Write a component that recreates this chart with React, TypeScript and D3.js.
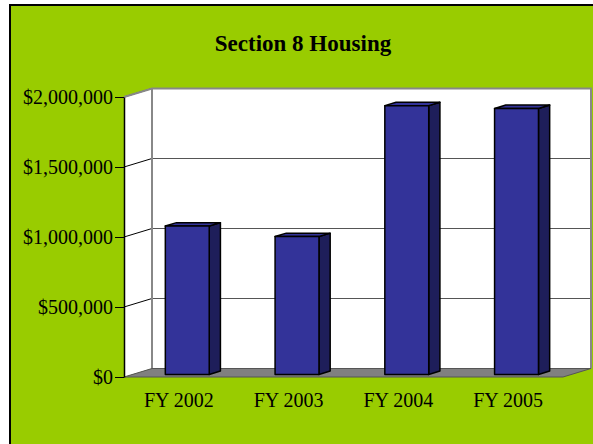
import React, { useEffect, useRef } from "react";
import * as d3 from "d3";

const categories = ["FY 2002", "FY 2003", "FY 2004", "FY 2005"];
const values = [1060000, 985000, 1920000, 1900000];
const yTicks = [0, 500000, 1000000, 1500000, 2000000];
const title = "Section 8 Housing";

// depth offset of the 3D box (back wall vs front plane)
const DX = 28;
const DY = 8.5;

export default function App() {
  const ref = useRef<SVGSVGElement>(null);

  useEffect(() => {
    const svg = d3.select(ref.current);
    svg.selectAll("*").remove();

    const x = d3.scaleBand().domain(categories).range([124, 563]);
    const y = d3.scaleLinear().domain([0, 2000000]).range([377, 97]);
    const p = (px: number, v: number, z: number) => [px + z * DX, y(v) - z * DY];
    const poly = (pts: number[][]) => pts.map((d) => d.join(",")).join(" ");

    // frame
    svg.append("rect")
      .attr("x", 10).attr("y", 5)
      .attr("width", 600).attr("height", 440)
      .attr("fill", "#99CC00")
      .attr("stroke", "#000").attr("stroke-width", 2);

    svg.append("text")
      .attr("x", 303).attr("y", 51)
      .attr("text-anchor", "middle")
      .attr("font-family", "'Liberation Serif', 'Times New Roman', serif")
      .attr("font-weight", "bold")
      .attr("font-size", 23)
      .text(title);

    const [x0, x1] = x.range();
    const top = y.domain()[1];

    // back wall
    svg.append("polygon")
      .attr("points", poly([p(x0, top, 1), p(x1, top, 1), p(x1, 0, 1), p(x0, 0, 1)]))
      .attr("fill", "#fff");
    // left wall
    svg.append("polygon")
      .attr("points", poly([p(x0, top, 0), p(x0, top, 1), p(x0, 0, 1), p(x0, 0, 0)]))
      .attr("fill", "#fff");

    // gridlines on back wall + diagonals on left wall
    const grid = svg.append("g");
    yTicks.filter((t) => t > 0).forEach((t) => {
      const a = p(x0, t, 1), b = p(x1, t, 1), c = p(x0, t, 0);
      grid.append("line")
        .attr("x1", a[0]).attr("y1", a[1]).attr("x2", b[0]).attr("y2", b[1])
        .attr("stroke", "#555").attr("stroke-width", 1);
      grid.append("line")
        .attr("x1", c[0]).attr("y1", c[1]).attr("x2", a[0]).attr("y2", a[1])
        .attr("stroke", "#000").attr("stroke-width", 1);
    });

    // back wall edges
    svg.append("polyline")
      .attr("points", poly([p(x0, top, 0), p(x0, top, 1), p(x1, top, 1), p(x1, 0, 1)]))
      .attr("fill", "none").attr("stroke", "#888").attr("stroke-width", 2);
    svg.append("line")
      .attr("x1", p(x0, top, 1)[0]).attr("y1", p(x0, top, 1)[1])
      .attr("x2", p(x0, 0, 1)[0]).attr("y2", p(x0, 0, 1)[1])
      .attr("stroke", "#888").attr("stroke-width", 2);

    // floor
    svg.append("polygon")
      .attr("points", poly([p(x0, 0, 0), p(x1, 0, 0), p(x1, 0, 1), p(x0, 0, 1)]))
      .attr("fill", "#808080").attr("stroke", "#555").attr("stroke-width", 1);

    // y axis
    const axis = svg.append("g")
      .attr("transform", `translate(${x0},0)`)
      .call(
        d3.axisLeft(y)
          .tickValues(yTicks)
          .tickSize(9)
          .tickSizeOuter(0)
          .tickPadding(2)
          .tickFormat((d) => "$" + d3.format(",")(d as number))
      );
    axis.select(".domain").attr("stroke", "#000").attr("stroke-width", 1.5);
    axis.selectAll("line").attr("stroke", "#000");
    axis.selectAll("text")
      .attr("font-family", "'Liberation Serif', 'Times New Roman', serif")
      .attr("font-size", 20)
      .attr("fill", "#000");

    // bars
    const barW = x.bandwidth() * 0.4;
    const z0 = 0.3, z1 = 0.7;
    const bars = svg.append("g");
    categories.forEach((c, i) => {
      const v = values[i];
      const bx0 = (x(c) as number) + (x.bandwidth() - barW) / 2;
      const bx1 = bx0 + barW;
      bars.append("polygon")
        .attr("points", poly([p(bx1, 0, z0), p(bx1, v, z0), p(bx1, v, z1), p(bx1, 0, z1)]))
        .attr("fill", "#1E1E5A").attr("stroke", "#000").attr("stroke-width", 1.5)
        .attr("stroke-linejoin", "round");
      bars.append("polygon")
        .attr("points", poly([p(bx0, v, z0), p(bx1, v, z0), p(bx1, v, z1), p(bx0, v, z1)]))
        .attr("fill", "#333399").attr("stroke", "#000").attr("stroke-width", 1.5)
        .attr("stroke-linejoin", "round");
      bars.append("polygon")
        .attr("points", poly([p(bx0, v, z0), p(bx1, v, z0), p(bx1, 0, z0), p(bx0, 0, z0)]))
        .attr("fill", "#333399").attr("stroke", "#000").attr("stroke-width", 1.5)
        .attr("stroke-linejoin", "round");
    });

    // category labels
    svg.append("g")
      .selectAll("text")
      .data(categories)
      .join("text")
      .attr("x", (d) => (x(d) as number) + x.bandwidth() / 2)
      .attr("y", 407)
      .attr("text-anchor", "middle")
      .attr("font-family", "'Liberation Serif', 'Times New Roman', serif")
      .attr("font-size", 20)
      .text((d) => d);
  }, []);

  return (
    <svg
      ref={ref}
      width={593}
      height={444}
      style={{ position: "absolute", left: 0, top: 0, background: "#fff" }}
    />
  );
}
